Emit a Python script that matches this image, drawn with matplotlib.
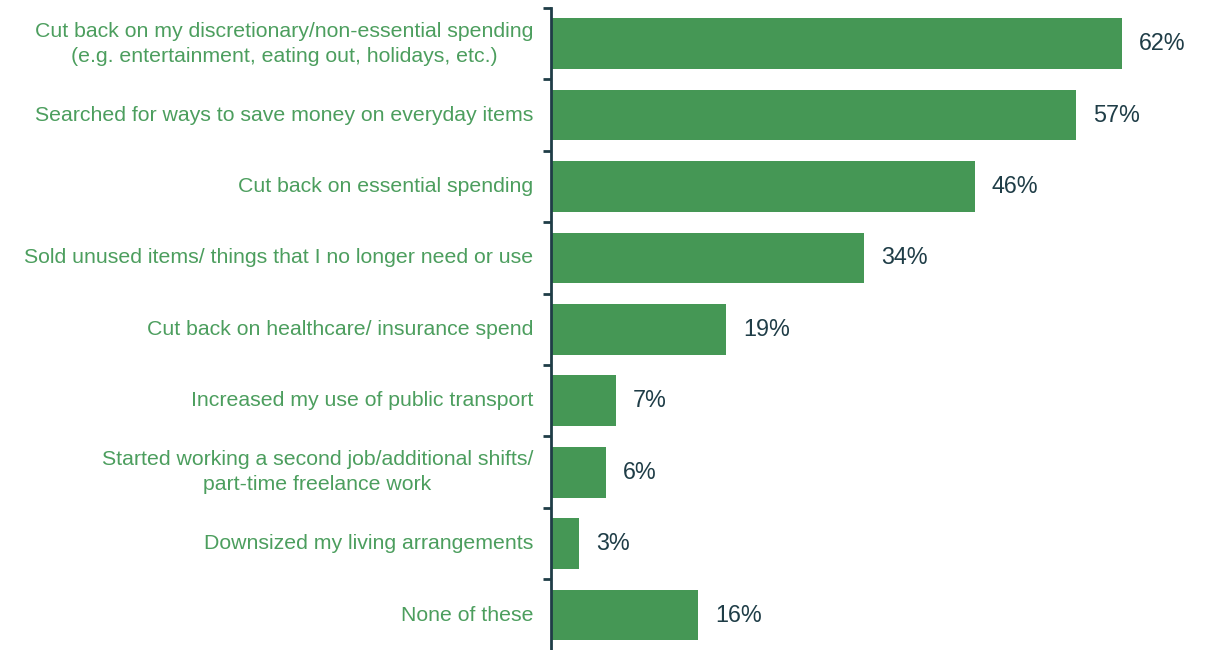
import matplotlib.pyplot as plt

# Survey answers, top to bottom
categories = [
    "Cut back on my discretionary/non-essential spending\n(e.g. entertainment, eating out, holidays, etc.)",
    "Searched for ways to save money on everyday items",
    "Cut back on essential spending",
    "Sold unused items/ things that I no longer need or use",
    "Cut back on healthcare/ insurance spend",
    "Increased my use of public transport",
    "Started working a second job/additional shifts/\npart-time freelance work",
    "Downsized my living arrangements",
    "None of these",
]
shares = [62, 57, 46, 34, 19, 7, 6, 3, 16]

bar_green = "#459755"
text_green = "#4C9E5E"
axis_dark = "#1F3D47"

plt.rcParams['font.family'] = ['Liberation Sans', 'DejaVu Sans']

fig = plt.figure(figsize=(12.08, 6.5), dpi=100)
ax = fig.add_axes([551 / 1208, 0, 1 - 551 / 1208, 642 / 650])

pos = list(range(len(categories)))
ax.barh(pos, shares, height=0.71, color=bar_green)

for y, v in zip(pos, shares):
    ax.text(v + 1.85, y, f"{v}%", va="center", ha="left",
            fontsize=16.8, color=axis_dark)

for y, lab in zip(pos, categories):
    ax.text(-1.95, y, lab, va="center", ha="right", multialignment="center",
            fontsize=15.3, color=text_green, linespacing=1.38)

ax.set_xlim(0, 71.3)
ax.set_ylim(8.49, -0.5)

for s in ["top", "right", "bottom"]:
    ax.spines[s].set_visible(False)
ax.spines["left"].set_color(axis_dark)
ax.spines["left"].set_linewidth(2)

# tick marks sit between the categories
ax.set_yticks([i - 0.5 for i in range(len(categories))])
ax.set_yticklabels([])
ax.tick_params(axis="y", length=6, width=2, color=axis_dark)
ax.set_xticks([])

fig.savefig("out.png", dpi=100)
